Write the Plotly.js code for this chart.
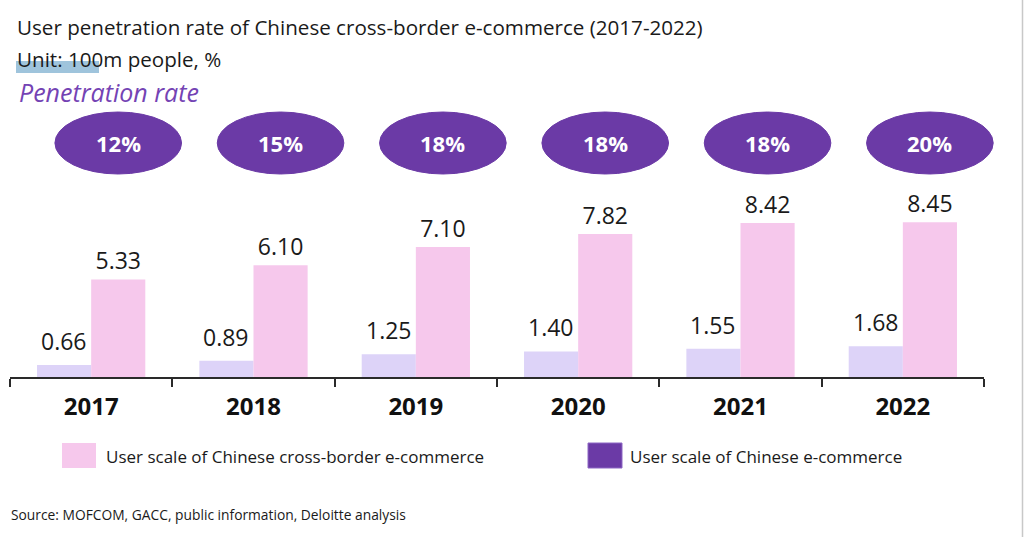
<!DOCTYPE html>
<html>
<head>
<meta charset="utf-8">
<script src="https://cdn.plot.ly/plotly-3.0.1.min.js"></script>
<style>html,body{margin:0;padding:0;background:#fff;}#chart{width:1024px;height:537px;}</style>
</head>
<body>
<div id="chart"></div>
<script>
// ---- data ----
const years = ["2017", "2018", "2019", "2020", "2021", "2022"];
const crossBorderUsers = [5.33, 6.10, 7.10, 7.82, 8.42, 8.45];   // pink bars
const smallSeries = [0.66, 0.89, 1.25, 1.40, 1.55, 1.68];          // lavender bars
const penetrationRate = [12, 15, 18, 18, 18, 20];                  // %, ellipses
const titleText = "User penetration rate of Chinese cross-border e-commerce (2017-2022)";
const unitText = "Unit: 100m people, %";
const rateLabel = "Penetration rate";
const legendNames = ["User scale of Chinese cross-border e-commerce", "User scale of Chinese e-commerce"];
const sourceText = "Source: MOFCOM, GACC, public information, Deloitte analysis";

// ---- layout helpers (pixel -> paper) ----
const W = 1024, H = 537;
const L = 10, R = 984, T = 100, B = 377;
const px = x => (x - L) / (R - L);
const py = y => (B - y) / (B - T);
const nCat = years.length;
const catToPaper = c => (c + 0.5) / nCat;   // category index -> paper x (range [-0.5, n-0.5])

const FONT = "Open Sans, Noto Sans, sans-serif";
const PINK = "#f6c8ec", LAV = "#ddd3f8", PURPLE = "#6b3aa6";

const traces = [
  {
    type: "bar", x: years, y: smallSeries, name: "Series",
    marker: {color: LAV}, hoverinfo: "x+y"
  },
  {
    type: "bar", x: years, y: crossBorderUsers, name: legendNames[0],
    marker: {color: PINK},
    text: crossBorderUsers.map(v => v.toFixed(2)), textposition: "outside",
    textfont: {family: FONT, size: 23, color: "#1a1a1a"},
    constraintext: "none", cliponaxis: false, hoverinfo: "x+y"
  }
];

const shapes = [];
const annotations = [];
const pinkOffset = 1/6;
const halfW = 0.39;

// labels of the lavender bars (sit a little higher above their bars)
smallSeries.forEach((v, i) => {
  annotations.push({
    xref: "x", yref: "y", x: i - pinkOffset, y: v,
    text: v.toFixed(2), showarrow: false, xanchor: "center", yanchor: "bottom",
    yshift: 6, font: {family: FONT, size: 23, color: "#1a1a1a"}
  });
});

penetrationRate.forEach((r, i) => {
  shapes.push({
    type: "circle", xref: "paper", yref: "paper",
    x0: catToPaper(i + pinkOffset - halfW), x1: catToPaper(i + pinkOffset + halfW),
    y0: py(174), y1: py(112),
    fillcolor: PURPLE, line: {color: PURPLE, width: 1}
  });
  annotations.push({
    xref: "paper", yref: "paper", x: catToPaper(i + pinkOffset), y: py(143),
    text: r + "%", showarrow: false, xanchor: "center", yanchor: "middle",
    font: {family: FONT, size: 22, color: "#ffffff", weight: "bold"}
  });
});

// highlight under "Unit: 100"
shapes.push({type: "rect", xref: "paper", yref: "paper", layer: "below",
  x0: px(16), x1: px(99), y0: py(73), y1: py(61),
  fillcolor: "#9fc4dc", line: {width: 0}});
// right border line
shapes.push({type: "line", xref: "paper", yref: "paper",
  x0: px(1022.5), x1: px(1022.5), y0: py(0), y1: py(537),
  line: {color: "#c8c8c8", width: 1.5}});
// legend squares
shapes.push({type: "rect", xref: "paper", yref: "paper",
  x0: px(62), x1: px(96), y0: py(468), y1: py(443),
  fillcolor: PINK, line: {width: 0}});
shapes.push({type: "rect", xref: "paper", yref: "paper",
  x0: px(588), x1: px(622), y0: py(468), y1: py(443),
  fillcolor: PURPLE, line: {color: "#8d66c4", width: 1}});

annotations.push(
  {xref: "paper", yref: "paper", x: px(15), y: py(27), text: titleText, showarrow: false,
   xanchor: "left", yanchor: "middle", font: {family: FONT, size: 20.6, color: "#1a1a1a"}},
  {xref: "paper", yref: "paper", x: px(15), y: py(59), text: unitText, showarrow: false,
   xanchor: "left", yanchor: "middle", font: {family: FONT, size: 20.6, color: "#1a1a1a"}},
  {xref: "paper", yref: "paper", x: px(17), y: py(92), text: "<i>" + rateLabel + "</i>", showarrow: false,
   xanchor: "left", yanchor: "middle", font: {family: FONT, size: 25, color: "#7443b4"}},
  {xref: "paper", yref: "paper", x: px(104), y: py(456), text: legendNames[0], showarrow: false,
   xanchor: "left", yanchor: "middle", font: {family: FONT, size: 17, color: "#1a1a1a"}},
  {xref: "paper", yref: "paper", x: px(628), y: py(456), text: legendNames[1], showarrow: false,
   xanchor: "left", yanchor: "middle", font: {family: FONT, size: 17, color: "#1a1a1a"}},
  {xref: "paper", yref: "paper", x: px(9), y: py(514), text: sourceText, showarrow: false,
   xanchor: "left", yanchor: "middle", font: {family: FONT, size: 13.8, color: "#1a1a1a"}}
);

const layout = {
  width: W, height: H,
  margin: {l: L, r: W - R, t: T, b: H - B, pad: 0},
  paper_bgcolor: "#ffffff", plot_bgcolor: "#ffffff",
  showlegend: false,
  barmode: "group", bargap: 0.333, bargroupgap: 0,
  xaxis: {
    type: "category", range: [-0.5, nCat - 0.5], fixedrange: true,
    showline: true, linecolor: "#2a2a2a", linewidth: 2,
    ticks: "outside", tickson: "boundaries", ticklen: 8, tickwidth: 2, tickcolor: "#2a2a2a",
    ticklabelstandoff: 7,
    showgrid: false, zeroline: false,
    tickfont: {family: FONT, size: 24, color: "#111111", weight: "bold"}
  },
  yaxis: {visible: false, range: [0, (B - T) / 18.3], fixedrange: true, showgrid: false, zeroline: false},
  shapes: shapes,
  annotations: annotations
};

Plotly.newPlot("chart", traces, layout, {displayModeBar: false, staticPlot: true});
</script>
</body>
</html>
